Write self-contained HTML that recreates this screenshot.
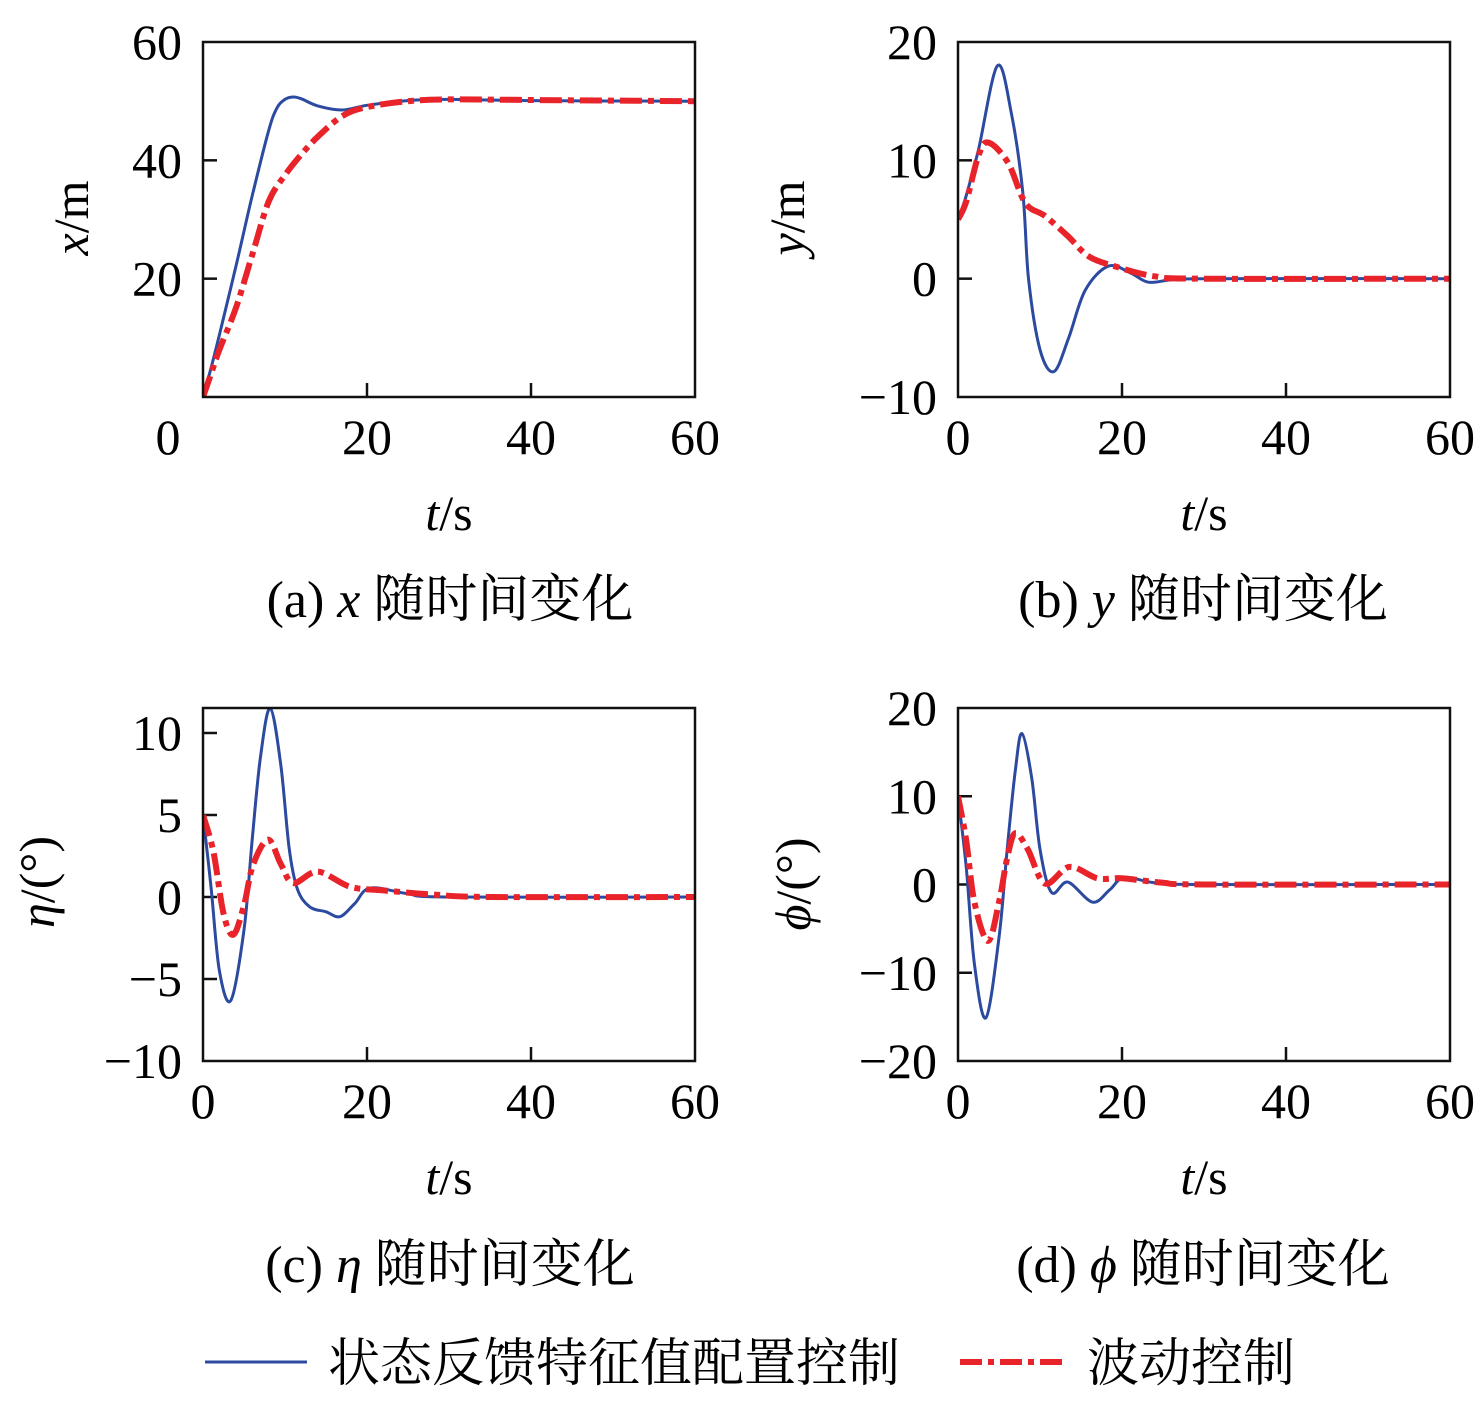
<!DOCTYPE html>
<html><head><meta charset="utf-8">
<style>
body{margin:0;background:#fff;}
svg{display:block;font-family:"Liberation Serif","Noto Serif CJK SC",serif;}
</style></head>
<body>
<svg id="fig" width="1476" height="1407" viewBox="0 0 1476 1407" xmlns="http://www.w3.org/2000/svg">
<g>
 <line x1="205" y1="1362" x2="307" y2="1362" stroke="#2b4aa0" stroke-width="3"/>
 <text x="328" y="1381" font-size="52" font-family="'Liberation Serif','Noto Serif CJK SC',serif">状态反馈特征值配置控制</text>
 <line x1="960" y1="1362" x2="1066" y2="1362" stroke="#e8232a" stroke-width="6" stroke-dasharray="22,6,6,6"/>
 <text x="1087" y="1381" font-size="52" font-family="'Liberation Serif','Noto Serif CJK SC',serif">波动控制</text>
</g>
</svg>
<script>
// panel (a) x
const tA_blue=[0,1,2,4,6,8,9,10,11,12,14,17,20,25,30,40,60];
const vA_blue=[0,5,10.5,22,34,45,48.8,50.3,50.7,50.4,49.2,48.5,49.3,50.1,50.3,50.1,50];
const tA_red=[0,1,2,4,6,8,10,12,14,17,20,25,30,40,60];
const vA_red=[0,4,8,15,24,33,37.5,41,44,47.5,49,50,50.3,50.2,50];
// panel (b) y
const tB_blue=[0,1,2.5,4.8,6.5,7.9,8.6,10,11.7,13.5,15.5,18.3,21,23.2,26,30,60];
const vB_blue=[5,7,10.9,18,14,7.3,0,-6,-7.85,-5,-1,1.05,0.5,-0.3,-0.1,0,0];
const tB_red=[0,1,2.5,3.7,6.1,8.2,10.6,13.4,15.9,19.1,24,30,60];
const vB_red=[5,6.5,10.4,11.5,9.8,6.4,5.3,3.6,1.9,1.05,0.2,0,0];
// panel (c) eta
const tC_blue=[0,1,2,3.4,5,6,7,8.2,9.5,10.5,11.5,13,15,16.7,18.5,20.4,25,30,60];
const vC_blue=[5,0.5,-4.5,-6.3,-2,3.5,8.5,11.5,8,3,0.5,-0.6,-0.9,-1.2,-0.4,0.55,0.2,0,0];
const tC_red=[0,1.25,2.5,3.7,5,6.1,7.95,9.5,11,14,17.9,22,28,35,60];
const vC_red=[5,2.8,-1,-2.3,-0.5,1.95,3.5,2,0.85,1.55,0.63,0.4,0.15,0,0];
// panel (d) phi
const tD_blue=[0,1,2,3.4,5,6,7,7.8,9,10,11.4,13.4,16.4,18.5,20.3,24,30,60];
const vD_blue=[10,2,-9,-15.1,-6,4,13,17.1,12,4,-0.9,0.27,-2,-0.6,0.8,0.2,0,0];
const tD_red=[0,1,2,3.66,5,6,6.96,8.5,10.6,13.6,17,20,25,30,60];
const vD_red=[10,5,-2,-6.4,-2,3,5.8,4,0.1,2,0.7,0.7,0.2,0,0];

const yTicksA=[20,40,60], yTickLabA=["20","40","60"];
const yTicksB=[-10,0,10,20], yTickLabB=["\u221210","0","10","20"];
const yTicksC=[-10,-5,0,5,10], yTickLabC=["\u221210","\u22125","0","5","10"];
const yTicksD=[-20,-10,0,10,20], yTickLabD=["\u221220","\u221210","0","10","20"];
const xTicks=[0,20,40,60], xTickLab=["0","20","40","60"];

const NS="http://www.w3.org/2000/svg";
const svg=document.getElementById('fig');
function mk(tag,attrs,parent){const e=document.createElementNS(NS,tag);for(const k in attrs)e.setAttribute(k,attrs[k]);parent.appendChild(e);return e;}
function spline(pts){
  let d="M"+pts[0][0].toFixed(1)+","+pts[0][1].toFixed(1);
  for(let i=0;i<pts.length-1;i++){
    const p0=pts[Math.max(0,i-1)],p1=pts[i],p2=pts[i+1],p3=pts[Math.min(pts.length-1,i+2)];
    const c1x=p1[0]+(p2[0]-p0[0])/6,c1y=p1[1]+(p2[1]-p0[1])/6;
    const c2x=p2[0]-(p3[0]-p1[0])/6,c2y=p2[1]-(p3[1]-p1[1])/6;
    d+=" C"+c1x.toFixed(1)+","+c1y.toFixed(1)+" "+c2x.toFixed(1)+","+c2y.toFixed(1)+" "+p2[0].toFixed(1)+","+p2[1].toFixed(1);
  }
  return d;
}
const FS=50;
function panel(o){
  const g=mk('g',{},svg);
  
  
  const X=t=>o.x0+(t-0)/60*(o.x1-o.x0);
  const Y=v=>o.y1-(v-o.ymin)/(o.ymax-o.ymin)*(o.y1-o.y0);
  const cp=mk('clipPath',{id:'clip'+o.id},g);
  mk('rect',{x:o.x0,y:o.y0,width:o.x1-o.x0,height:o.y1-o.y0},cp);
  o.yt.forEach((v,i)=>{
    const y=Y(v);
    if(y>o.y0+2&&y<o.y1-2){const tk=mk('line',{x1:o.x0,y1:y,x2:o.x0+14,y2:y,stroke:'#111','stroke-width':2.5},g);
    
    }
    const tl=mk('text',{x:o.ylx,y:y+17,'font-size':FS,'text-anchor':'end'},g);
    tl.textContent=o.yl[i];
    
    
  });
  xTicks.forEach((v,i)=>{
    const x=X(v);
    if(x>o.x0+2&&x<o.x1-2){const tk=mk('line',{x1:x,y1:o.y1,x2:x,y2:o.y1-14,stroke:'#111','stroke-width':2.5},g);
    
    }
    if(o.skipX0&&v===0)return;
    const tl=mk('text',{x:x,y:o.y1+57,'font-size':FS,'text-anchor':'middle'},g);
    tl.textContent=xTickLab[i];
    
    
  });
  if(o.skipX0){const z=mk('text',{x:168,y:o.y1+57,'font-size':FS,'text-anchor':'middle'},g);z.textContent="0";
    
    }
  const ser=[[o.tb,o.vb,'#2b4aa0',3,null,'series-state-feedback'],[o.tr,o.vr,'#e8232a',6,'22,6,6,6','series-wave-control']];
  ser.forEach(s=>{
    const pts=s[0].map((t,i)=>[X(t),Y(s[1][i])]);
    const p=mk('path',{d:spline(pts),fill:'none',stroke:s[2],'stroke-width':s[3],'clip-path':'url(#clip'+o.id+')','stroke-linejoin':'round'},g);
    if(s[4])p.setAttribute('stroke-dasharray',s[4]);
    
    
  });
  const fr=mk('rect',{x:o.x0,y:o.y0,width:o.x1-o.x0,height:o.y1-o.y0,fill:'none',stroke:'#111','stroke-width':2.5},g);
  
  
  const xl=mk('text',{x:(o.x0+o.x1)/2,y:o.y1+133,'font-size':FS,'text-anchor':'middle'},g);
  xl.innerHTML='<tspan font-style="italic">t</tspan>/s';
  
  
  const yl=mk('text',{x:0,y:0,'font-size':FS,'text-anchor':'middle',transform:'translate('+o.yax+','+o.yay+') rotate(-90)'},g);
  yl.innerHTML='<tspan font-style="italic">'+o.ysym+'</tspan>'+o.yunit;
  
  
  const cap=mk('text',{x:o.capx,y:o.capy,'font-size':52,'text-anchor':'middle'},g);
  cap.innerHTML=o.capA+'<tspan font-style="italic">'+o.ysym+'</tspan> 随时间变化';
  
  
}
panel({id:'a',x0:203,x1:695,y0:42,y1:397,ymin:0,ymax:60,yt:yTicksA,yl:yTickLabA,ylx:182,skipX0:true,
  tb:tA_blue,vb:vA_blue,tr:tA_red,vr:vA_red,yax:88,yay:218,ysym:'x',yunit:'/m',capx:450,capy:617,capA:'(a) '});
panel({id:'b',x0:958,x1:1450,y0:42,y1:397,ymin:-10,ymax:20,yt:yTicksB,yl:yTickLabB,ylx:937,
  tb:tB_blue,vb:vB_blue,tr:tB_red,vr:vB_red,yax:804,yay:218,ysym:'y',yunit:'/m',capx:1203,capy:617,capA:'(b) '});
panel({id:'c',x0:203,x1:695,y0:708,y1:1061,ymin:-10,ymax:11.524,yt:yTicksC,yl:yTickLabC,ylx:182,
  tb:tC_blue,vb:vC_blue,tr:tC_red,vr:vC_red,yax:54,yay:882,ysym:'η',yunit:'/(°)',capx:450,capy:1282,capA:'(c) '});
panel({id:'d',x0:958,x1:1450,y0:708,y1:1061,ymin:-20,ymax:20,yt:yTicksD,yl:yTickLabD,ylx:937,
  tb:tD_blue,vb:vD_blue,tr:tD_red,vr:vD_red,yax:810,yay:884,ysym:'ϕ',yunit:'/(°)',capx:1203,capy:1282,capA:'(d) '});
</script>
</body></html>
